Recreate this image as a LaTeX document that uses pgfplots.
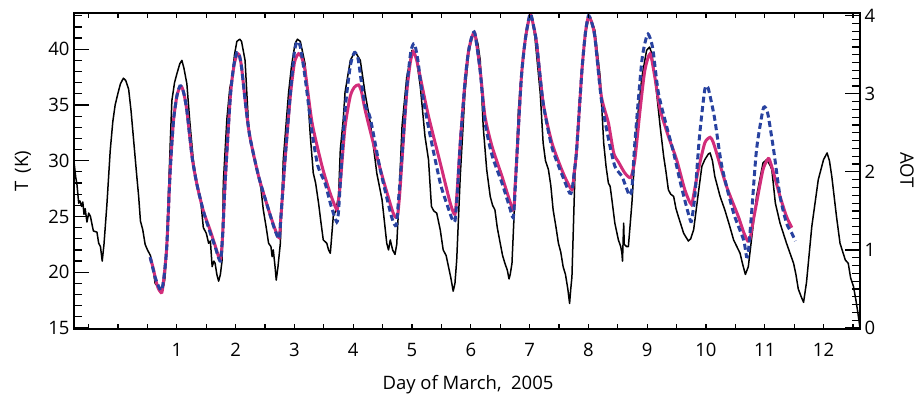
\documentclass[border=0pt]{standalone}
\usepackage{fontspec}
\setmainfont{Open Sans}
\usepackage{pgfplots}
\pgfplotsset{compat=1.18}
\definecolor{cpink}{RGB}{210,45,122}
\definecolor{cblue}{RGB}{40,66,160}
\begin{document}
\begin{tikzpicture}
\useasboundingbox (0,0) rectangle (918pt,404pt);
\pgfplotsset{
  base/.style={
    at={(74pt,75pt)}, anchor=south west,
    width=786pt, height=316pt, scale only axis,
    xmin=-0.75, xmax=12.62,
    axis line style={line width=1.3pt},
    tick style={line width=1.2pt, black},
    tick align=inside,
    ticklabel style={font=\fontsize{18.5}{22}\selectfont},
    /pgf/number format/assume math mode=true,
  }
}
% main axis with the data and left ticks
\begin{axis}[base,
  ymin=14.91, ymax=43.25,
  xtick=\empty,
  ytick={15,20,25,30,35,40},
  minor ytick={16,17,18,19,21,22,23,24,26,27,28,29,31,32,33,34,36,37,38,39,41,42,43},
  ytick pos=left,
  major tick length=15pt, minor tick length=8pt,
  yticklabel style={xshift=-1pt},
]
\addplot[black, line width=1.5pt, line join=round] coordinates {
(-0.75,29.9) (-0.72,28.5) (-0.70,27.9) (-0.67,26.2) (-0.65,26.4) (-0.62,25.9) (-0.60,26.3) (-0.58,25.2) (-0.56,25.7) (-0.53,24.5) (-0.50,25.3) (-0.47,25.0) (-0.44,24.2) (-0.42,23.7) (-0.36,23.6) (-0.33,22.6) (-0.30,22.3) (-0.27,21.0) (-0.24,22.5) (-0.19,26.1) (-0.134,30.9) (-0.09,33.5) (-0.05,35.0) (0.00,36.1) (0.04,36.9) (0.09,37.4) (0.13,37.2) (0.18,36.4) (0.22,34.5) (0.26,32.1) (0.32,28.5) (0.35,26.8) (0.38,24.6) (0.42,23.8) (0.46,22.5) (0.50,22.0) (0.55,21.5) (0.59,20.5) (0.63,19.0) (0.68,18.7) (0.72,18.6) (0.745,18.4) (0.78,18.9) (0.80,19.6) (0.83,23) (0.857,27.0) (0.89,32) (0.915,35.4) (0.96,37.0) (1.0,37.8) (1.05,38.7) (1.085,39.0) (1.12,38.3) (1.17,36.9) (1.22,33.5) (1.28,30.0) (1.34,28.0) (1.40,26.7) (1.45,24.0) (1.50,23.5) (1.54,22.6) (1.57,22.8) (1.60,20.5) (1.63,21.0) (1.65,20.8) (1.68,19.8) (1.71,19.2) (1.74,19.8) (1.77,21.1) (1.79,28.0) (1.85,33.7) (1.90,36.5) (1.94,37.5) (1.98,39.5) (2.02,40.7) (2.07,40.9) (2.10,40.7) (2.16,39.0) (2.22,33.1) (2.30,30.4) (2.34,29.8) (2.39,28.6) (2.43,27.5) (2.47,25.6) (2.52,24.0) (2.56,22.6) (2.60,22.3) (2.62,21.4) (2.64,22.0) (2.67,20.5) (2.69,19.3) (2.72,20.5) (2.76,22.6) (2.81,30.1) (2.90,36.1) (2.95,38.5) (3.01,40.5) (3.05,40.9) (3.10,40.7) (3.18,38.7) (3.23,35.5) (3.27,32.2) (3.32,28.9) (3.36,28.0) (3.41,26.2) (3.45,24.5) (3.49,22.9) (3.55,22.6) (3.58,22.0) (3.61,21.7) (3.63,23.0) (3.66,25.0) (3.70,25.5) (3.75,26.8) (3.78,31.0) (3.83,33.7) (3.86,36.1) (3.95,39.0) (4.03,39.8) (4.12,39.0) (4.20,36.1) (4.29,33.4) (4.35,31.0) (4.40,28.9) (4.49,26.5) (4.57,22.6) (4.60,22.0) (4.63,22.9) (4.67,22.0) (4.71,21.6) (4.74,22.5) (4.77,25.6) (4.83,33.1) (4.91,37.5) (5.0,39.9) (5.07,39.3) (5.14,36.7) (5.22,32.2) (5.28,30.1) (5.33,25.9) (5.37,25.5) (5.42,25.3) (5.48,23.8) (5.53,22.0) (5.58,21.5) (5.62,20.5) (5.66,19.5) (5.70,18.3) (5.73,19.0) (5.76,21.1) (5.82,28.6) (5.90,36.1) (5.96,39.5) (6.02,41.1) (6.07,41.5) (6.12,40.5) (6.16,39.0) (6.21,33.1) (6.27,29.2) (6.33,26.8) (6.37,26.0) (6.41,25.6) (6.45,24.0) (6.50,22.6) (6.54,21.5) (6.58,20.8) (6.62,20.2) (6.65,19.4) (6.67,19.8) (6.70,20.8) (6.75,26.8) (6.81,34.6) (6.89,39.6) (6.95,41.8) (7.01,43.0) (7.05,42.5) (7.09,41.1) (7.18,36.1) (7.23,31.6) (7.27,30.0) (7.32,29.2) (7.36,27.8) (7.40,25.6) (7.45,24.0) (7.49,22.6) (7.53,21.8) (7.57,20.5) (7.61,19.8) (7.65,18.5) (7.68,17.2) (7.70,18.5) (7.72,19.6) (7.77,28.6) (7.86,36.1) (7.94,41.1) (8.0,42.7) (8.03,42.9) (8.11,41.7) (8.20,37.5) (8.26,31.6) (8.30,29.5) (8.34,28.0) (8.37,27.7) (8.40,26.5) (8.45,24.4) (8.51,22.9) (8.55,22.3) (8.57,21.7) (8.58,21.0) (8.60,24.4) (8.61,22.5) (8.65,22.3) (8.68,22.3) (8.74,26.2) (8.82,33.1) (8.91,37.5) (8.99,39.9) (9.04,40.2) (9.08,39.6) (9.16,36.1) (9.22,33.1) (9.28,30.4) (9.32,29.0) (9.36,27.4) (9.40,27.0) (9.45,26.8) (9.49,25.7) (9.53,25.0) (9.62,23.5) (9.70,22.8) (9.74,23.0) (9.79,23.8) (9.87,27.1) (9.93,29.5) (9.98,30.1) (10.04,30.6) (10.07,30.7) (10.11,30.0) (10.15,28.6) (10.24,26.8) (10.32,25.6) (10.40,24.2) (10.47,22.9) (10.58,21.7) (10.62,20.8) (10.67,19.8) (10.72,20.5) (10.78,23.2) (10.86,26.8) (10.97,29.8) (11.03,30.1) (11.09,29.6) (11.12,29.2) (11.18,26.2) (11.26,24.4) (11.37,22.6) (11.49,20.8) (11.53,19.8) (11.57,18.5) (11.62,17.8) (11.66,17.3) (11.71,19.1) (11.80,24.1) (11.91,28.3) (12.0,30.1) (12.06,30.7) (12.10,30.0) (12.14,28.6) (12.22,25.0) (12.28,22.6) (12.37,21.1) (12.42,20.8) (12.46,19.5) (12.51,18.7) (12.55,17.5) (12.58,16.5) (12.62,15.0)
};
\addplot[cpink, line width=3pt, smooth, tension=0.4] coordinates {
(0.546,21.35) (0.60,20.3) (0.63,19.55) (0.68,18.6) (0.745,18.2) (0.79,20.0) (0.83,22.5) (0.886,29.1) (0.943,33.6) (1.00,35.8) (1.05,36.6) (1.085,36.6) (1.12,36.0) (1.17,34.5) (1.26,30.3) (1.34,27.9) (1.45,25.5) (1.57,23.7) (1.65,22.4) (1.74,21.1) (1.78,23.5) (1.82,28.0) (1.91,35.8) (1.97,38.5) (2.02,39.5) (2.06,39.5) (2.1,38.4) (2.17,35.0) (2.24,32.2) (2.39,28.6) (2.56,25.6) (2.66,24.0) (2.74,23.1) (2.77,25.0) (2.84,30.1) (2.93,35.8) (3.00,38.8) (3.07,39.6) (3.12,39.3) (3.18,38.1) (3.30,33.4) (3.47,29.5) (3.60,27.2) (3.72,25.6) (3.75,26.5) (3.78,28.0) (3.86,33.0) (3.95,35.8) (4.02,36.6) (4.09,36.8) (4.14,36.2) (4.20,34.6) (4.34,31.6) (4.51,28.3) (4.68,25.3) (4.75,25.0) (4.79,27.0) (4.83,30.1) (4.91,36.1) (4.97,38.8) (5.02,39.8) (5.08,39.0) (5.14,37.5) (5.28,34.0) (5.48,29.8) (5.65,26.2) (5.73,25.2) (5.77,27.5) (5.82,31.6) (5.90,37.0) (5.96,39.8) (6.02,41.1) (6.07,41.4) (6.16,38.1) (6.24,34.0) (6.36,31.3) (6.53,28.6) (6.72,25.6) (6.75,27.5) (6.78,30.1) (6.86,37.5) (6.93,41.0) (7.01,43.1) (7.07,42.0) (7.12,40.5) (7.23,35.2) (7.38,31.6) (7.57,28.9) (7.72,27.4) (7.76,29.0) (7.80,31.0) (7.89,38.1) (7.95,41.5) (8.0,42.9) (8.05,42.5) (8.11,41.1) (8.22,35.8) (8.34,33.4) (8.43,30.7) (8.51,29.9) (8.62,28.9) (8.72,28.5) (8.79,30.1) (8.88,34.6) (8.96,38.1) (9.05,39.6) (9.13,37.5) (9.22,34.6) (9.36,32.2) (9.50,30.1) (9.64,27.4) (9.75,26.1) (9.81,27.5) (9.87,29.2) (9.98,31.6) (10.07,32.1) (10.12,31.7) (10.18,30.7) (10.35,27.7) (10.55,25.0) (10.64,23.6) (10.71,22.8) (10.75,23.0) (10.80,24.5) (10.86,26.2) (10.97,29.2) (11.06,30.2) (11.10,29.8) (11.15,28.9) (11.26,26.8) (11.37,25.0) (11.46,24.0)
};
\addplot[cblue, line width=3pt, dash pattern=on 6pt off 3.5pt, smooth, tension=0.4] coordinates {
(0.546,21.35) (0.63,19.55) (0.70,18.6) (0.745,18.4) (0.79,20.0) (0.83,22.5) (0.886,29.1) (0.943,33.6) (1.00,35.8) (1.05,36.7) (1.085,36.6) (1.12,36.0) (1.17,34.5) (1.26,30.3) (1.34,27.9) (1.45,25.5) (1.57,23.5) (1.65,22.3) (1.74,21.0) (1.78,23.5) (1.82,28.0) (1.91,35.8) (1.97,38.6) (2.02,39.7) (2.06,39.5) (2.10,38.4) (2.17,35.0) (2.24,32.2) (2.39,28.6) (2.56,25.6) (2.66,23.9) (2.74,23.0) (2.77,25.0) (2.84,30.1) (2.93,36.0) (3.00,39.8) (3.05,40.7) (3.10,40.2) (3.18,37.5) (3.30,32.5) (3.40,29.5) (3.52,28.0) (3.62,26.0) (3.72,24.5) (3.75,25.5) (3.78,28.0) (3.86,34.5) (3.95,38.5) (4.02,39.7) (4.08,39.2) (4.14,37.0) (4.20,35.0) (4.29,33.8) (4.46,29.2) (4.65,25.0) (4.73,24.2) (4.77,26.5) (4.83,30.5) (4.91,36.5) (4.98,39.8) (5.04,40.5) (5.10,39.0) (5.16,36.5) (5.28,33.0) (5.48,28.0) (5.60,26.0) (5.68,24.8) (5.73,24.6) (5.77,27.0) (5.82,31.5) (5.90,37.0) (5.96,39.8) (6.02,41.2) (6.07,41.4) (6.16,38.0) (6.24,33.5) (6.36,30.5) (6.53,28.0) (6.65,26.0) (6.72,24.9) (6.75,27.0) (6.78,30.1) (6.86,37.5) (6.93,41.0) (7.01,43.2) (7.07,42.0) (7.12,40.5) (7.23,35.2) (7.38,31.2) (7.57,28.5) (7.68,27.1) (7.72,27.3) (7.76,29.0) (7.80,31.0) (7.89,38.1) (7.95,41.5) (8.0,43.0) (8.05,42.5) (8.11,41.1) (8.22,35.5) (8.34,32.0) (8.45,29.5) (8.57,28.6) (8.65,27.5) (8.70,26.9) (8.74,27.5) (8.79,31.6) (8.91,39.0) (9.0,41.3) (9.05,41.0) (9.10,39.9) (9.19,36.1) (9.33,33.1) (9.45,30.7) (9.58,27.7) (9.73,24.7) (9.76,24.8) (9.81,26.8) (9.89,32.2) (9.98,36.4) (10.03,36.6) (10.07,35.8) (10.15,33.7) (10.27,29.5) (10.47,25.3) (10.64,22.9) (10.69,21.4) (10.72,21.8) (10.78,25.6) (10.86,31.0) (10.97,34.6) (11.02,34.7) (11.06,34.0) (11.15,31.0) (11.26,26.8) (11.37,24.4) (11.46,23.5) (11.52,22.8)
};
\end{axis}
% x ticks
\begin{axis}[base,
  ymin=14.91, ymax=43.25,
  ytick=\empty,
  xtick={1,2,3,4,5,6,7,8,9,10,11,12},
  minor xtick={-0.5,0,0.5,1.5,2.5,3.5,4.5,5.5,6.5,7.5,8.5,9.5,10.5,11.5,12.5},
  xtick pos=both,
  major tick length=5pt, minor tick length=5pt,
  xticklabel style={yshift=-11pt},
  xticklabel pos=lower,
]
\end{axis}
% right axis
\begin{axis}[base,
  ymin=-0.013, ymax=4.036,
  axis x line=none,
  axis y line*=right,
  ytick={0,1,2,3,4},
  minor tick num=9,
  major tick length=15pt, minor tick length=8pt,
  yticklabel style={xshift=1pt},
]
\end{axis}
\node[font=\fontsize{18.5}{22}\selectfont, rotate=90] at (23pt,233pt) {T\,\ (K)};
\node[font=\fontsize{18.5}{22}\selectfont, rotate=-90] at (907pt,234pt) {AOT};
\node[font=\fontsize{18.5}{22}\selectfont] at (468pt,19pt) {Day of March,\ \ 2005};
\end{tikzpicture}
\end{document}
